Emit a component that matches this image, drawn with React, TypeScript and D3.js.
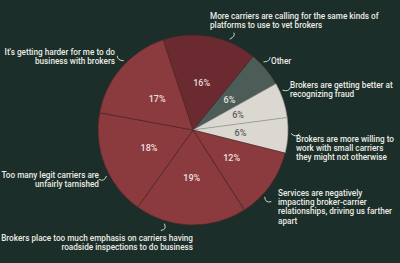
import React from "react"
import * as d3 from "d3"

const categories = [
  "More carriers are calling for the same kinds of platforms to use to vet brokers",
  "Other",
  "Brokers are getting better at recognizing fraud",
  "Brokers are more willing to work with small carriers they might not otherwise",
  "Services are negatively impacting broker-carrier relationships, driving us farther apart",
  "Brokers place too much emphasis on carriers having roadside inspections to do business",
  "Too many legit carriers are unfairly tarnished",
  "It's getting harder for me to do business with brokers",
]
const shares = [16, 6, 6, 6, 12, 19, 18, 17]

// wrapped label lines, as in the picture
const labelLines = [
  ["More carriers are calling for the same kinds of", "platforms to use to vet brokers"],
  ["Other"],
  ["Brokers are getting better at", "recognizing fraud"],
  ["Brokers are more willing to", "work with small carriers", "they might not otherwise"],
  ["Services are negatively", "impacting broker-carrier", "relationships, driving us farther", "apart"],
  ["Brokers place too much emphasis on carriers having", "roadside inspections to do business"],
  ["Too many legit carriers are", "unfairly tarnished"],
  ["It's getting harder for me to do", "business with brokers"],
]

// annotation layout: leader angle (deg), text anchor point, alignment
const labelLayout = [
  { angle: 22, x: 210, y: 19, anchor: "start" },
  { angle: 46, x: 271, y: 64, anchor: "start" },
  { angle: 66, x: 290, y: 88, anchor: "start" },
  { angle: 92, x: 296, y: 142, anchor: "start" },
  { angle: 133, x: 278, y: 196, anchor: "start" },
  { angle: 197, x: 193, y: 241, anchor: "end" },
  { angle: 242, x: 99, y: 178, anchor: "end" },
  { angle: 315, x: 115, y: 55, anchor: "end" },
]

const sliceColors = ["#6b2a30", "#4c5d57", "#dad8d0", "#dad8d0", "#8b3a3e", "#8b3a3e", "#8b3a3e", "#8b3a3e"]
const pctColors = ["#eadada", "#e6e6e0", "#5a5a58", "#5a5a58", "#f0e0e0", "#f0e0e0", "#f0e0e0", "#f0e0e0"]

const W = 400
const H = 263
const cx = 193
const cy = 130
const R = 95

export default function App() {
  const pie = d3
    .pie<number>()
    .sort(null)
    .value(d => d)
    .startAngle(-0.32)
    .endAngle(-0.32 + Math.PI * 2)
  const arcs = pie(shares)
  const arc = d3.arc<d3.PieArcDatum<number>>().innerRadius(0).outerRadius(R)
  const labelArc = d3.arc<d3.PieArcDatum<number>>().innerRadius(R * 0.5).outerRadius(R * 0.5)

  const polar = (deg: number, r: number) => {
    const a = (deg * Math.PI) / 180
    return [Math.sin(a) * r, -Math.cos(a) * r]
  }

  return (
    <svg
      width={W}
      height={H}
      style={{ position: "absolute", left: 0, top: 0, background: "#1b2e29" }}
      fontFamily="Roboto, sans-serif"
    >
      <rect width={W} height={H} fill="#1b2e29" />
      <g transform={`translate(${cx},${cy})`}>
        {arcs.map((a, i) => (
          <path key={i} d={arc(a) || ""} fill={sliceColors[i]} stroke={i >= 2 && i <= 3 ? "#9a9890" : "#4a2528"} strokeWidth={0.6} />
        ))}
        {arcs.map((a, i) => {
          const [x, y] = labelArc.centroid(a)
          return (
            <text key={i} x={x} y={y} dy="0.35em" textAnchor="middle" fontSize={9} fontWeight={500} fill={pctColors[i]}>
              {a.data}%
            </text>
          )
        })}
        {labelLayout.map((l, i) => {
          const [x0, y0] = polar(l.angle, R + 3)
          const [x1, y1] = polar(l.angle, R + 10)
          const dir = l.anchor === "start" ? 1 : -1
          const [mx, my] = polar(l.angle + dir * 2.5, R + 8)
          return (
            <path key={i} d={`M${x0},${y0}Q${mx},${my} ${x1 + dir * 1.5},${y1}`} fill="none" stroke="#e6e4dc" strokeWidth={0.9} />
          )
        })}
      </g>
      {labelLayout.map((l, i) => (
        <text key={i} x={l.x} y={l.y} textAnchor={l.anchor} fontSize={8.2} fontWeight={500} fill="#ecebe5">
          {labelLines[i].map((t, j) => (
            <tspan key={j} x={l.x} dy={j === 0 ? 0 : 9.2}>
              {t}
            </tspan>
          ))}
        </text>
      ))}
    </svg>
  )
}
